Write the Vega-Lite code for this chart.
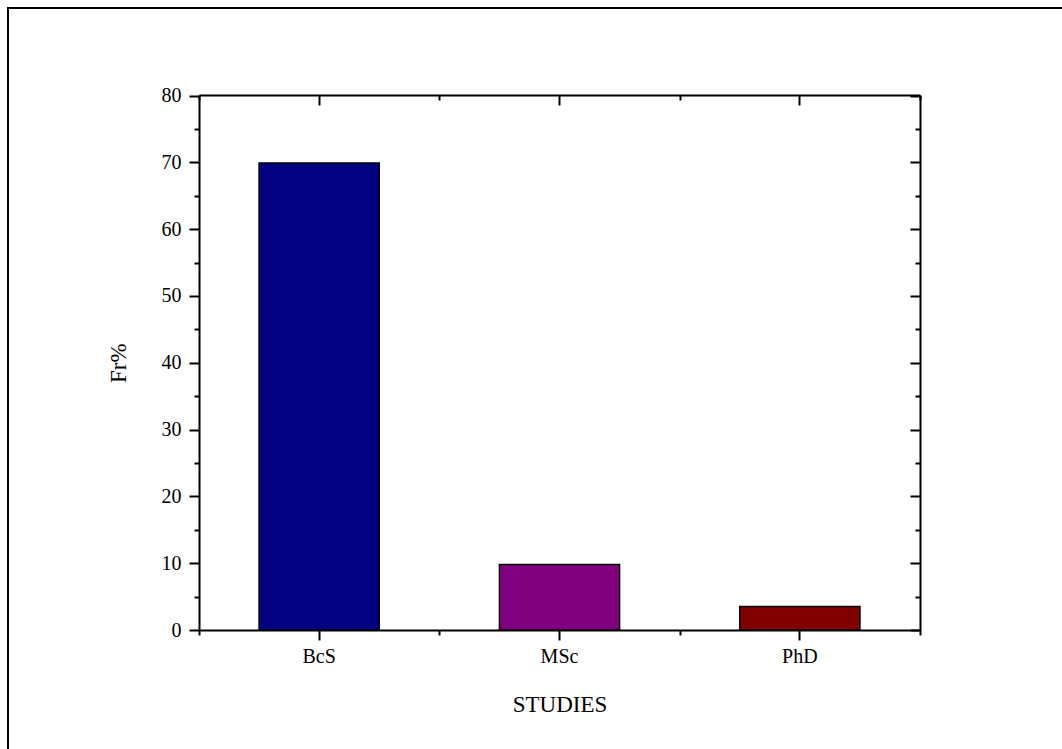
{
  "$schema": "https://vega.github.io/schema/vega-lite/v6.json",
  "width": 1070,
  "height": 751,
  "autosize": {"type": "none"},
  "padding": {"left": 8, "top": 8, "right": -16, "bottom": -10},
  "background": "white",
  "config": {
    "view": {"stroke": "black", "strokeWidth": 2},
    "font": "Liberation Serif",
    "axis": {
      "grid": false,
      "domainColor": "black",
      "domainWidth": 2,
      "tickColor": "black",
      "tickWidth": 2,
      "labelColor": "black",
      "titleColor": "black",
      "labelFont": "Liberation Serif",
      "titleFont": "Liberation Serif",
      "labelFontSize": 20,
      "titleFontSize": 23,
      "titleFontWeight": "normal",
      "labelAngle": 0
    }
  },
  "data": {
    "values": [
      {"study": "BcS", "fr": 69.9},
      {"study": "MSc", "fr": 9.8},
      {"study": "PhD", "fr": 3.5}
    ]
  },
  "layer": [
    {
      "mark": {"type": "bar", "stroke": "black", "strokeWidth": 1.5, "width": {"band": 0.5}},
      "encoding": {
        "x": {
          "field": "study", "type": "nominal", "sort": null,
          "scale": {"range": [191, 912], "paddingInner": 0, "paddingOuter": 0},
          "axis": {"orient": "bottom", "offset": -129, "tickSize": 10, "labelPadding": 6, "title": "STUDIES", "titlePadding": 27, "domain": true}
        },
        "y": {
          "field": "fr", "type": "quantitative",
          "scale": {"domain": [0, 80], "range": [622, 87.5], "nice": false, "zero": true},
          "axis": {"orient": "left", "offset": -191, "values": [0, 10, 20, 30, 40, 50, 60, 70, 80], "tickSize": 10, "labelPadding": 8, "title": "Fr%", "titlePadding": 31, "domain": true}
        },
        "color": {
          "field": "study", "type": "nominal",
          "scale": {"domain": ["BcS", "MSc", "PhD"], "range": ["#000080", "#800080", "#800000"]},
          "legend": null
        }
      }
    },
    {
      "mark": {"type": "bar", "opacity": 0, "width": {"band": 0.5}},
      "encoding": {
        "x": {
          "field": "study", "type": "nominal", "sort": null,
          "axis": {"orient": "bottom", "offset": -129, "tickBand": "extent", "tickExtra": true, "tickSize": 5, "labels": false, "domain": false, "title": null}
        },
        "y": {
          "field": "fr", "type": "quantitative",
          "axis": {"orient": "left", "offset": -191, "values": [5, 15, 25, 35, 45, 55, 65, 75], "tickSize": 5, "labels": false, "domain": false, "title": null}
        }
      }
    },
    {
      "mark": {"type": "bar", "opacity": 0, "width": {"band": 0.5}},
      "encoding": {
        "x": {
          "field": "study", "type": "nominal", "sort": null,
          "axis": {"orient": "top", "offset": -87, "tickSize": -10, "labels": false, "domain": true, "title": null}
        },
        "y": {
          "field": "fr", "type": "quantitative",
          "axis": {"orient": "right", "offset": -158, "values": [0, 10, 20, 30, 40, 50, 60, 70, 80], "tickSize": -10, "labels": false, "domain": true, "title": null}
        }
      }
    },
    {
      "mark": {"type": "bar", "opacity": 0, "width": {"band": 0.5}},
      "encoding": {
        "x": {
          "field": "study", "type": "nominal", "sort": null,
          "axis": {"orient": "top", "offset": -87, "tickBand": "extent", "tickExtra": true, "tickSize": -5, "labels": false, "domain": false, "title": null}
        },
        "y": {
          "field": "fr", "type": "quantitative",
          "axis": {"orient": "right", "offset": -158, "values": [5, 15, 25, 35, 45, 55, 65, 75], "tickSize": -5, "labels": false, "domain": false, "title": null}
        }
      }
    }
  ],
  "resolve": {"axis": {"x": "independent", "y": "independent"}}
}
